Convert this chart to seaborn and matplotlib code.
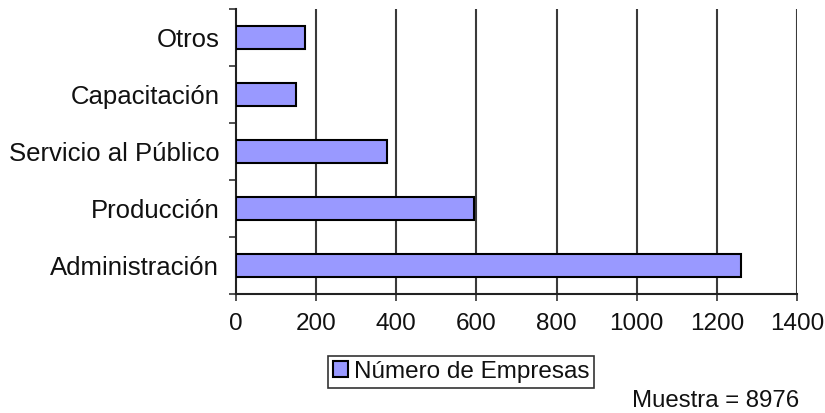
import matplotlib
matplotlib.use("Agg")
import matplotlib.pyplot as plt
import seaborn as sns
import pandas as pd
import numpy as np

# data
areas = ["Otros", "Capacitación", "Servicio al Público", "Producción", "Administración"]
empresas = [173, 151, 378, 594, 1260]
x_ticks = [0, 200, 400, 600, 800, 1000, 1200, 1400]
serie = "Número de Empresas"
nota = "Muestra = 8976"

df = pd.DataFrame({"area": areas, "empresas": empresas})

sns.set_style("white")
plt.rcParams["font.family"] = ["Liberation Sans", "DejaVu Sans"]

fig = plt.figure(figsize=(8.25, 4.13), dpi=100)
ax = fig.add_axes([0.286, 0.289, 0.68, 0.69])

sns.barplot(data=df, y="area", x="empresas", orient="h", color="#9999FF",
            saturation=1, edgecolor="black", linewidth=1.5, width=0.4,
            label=serie, ax=ax, zorder=3)

ax.set_xlim(0, 1400)
ax.set_ylim(len(areas) - 0.5, -0.5)
ax.set_xticks(x_ticks)
ax.set_xticklabels([str(t) for t in x_ticks], fontsize=17.5, color="#111111")
ax.set_xlabel("")
ax.set_ylabel("")

# category labels at centers, tick marks at boundaries
ax.set_yticks(np.arange(len(areas)))
ax.set_yticklabels(areas, fontsize=18.5, color="#111111")
ax.tick_params(axis="y", length=0, pad=12)
ax.set_yticks(np.arange(len(areas) + 1) - 0.5, minor=True)
ax.tick_params(axis="y", which="minor", length=5, width=1.2, color="#333333", direction="out", left=True)
ax.tick_params(axis="x", length=5, width=1.2, color="#333333", direction="out", bottom=True, pad=9)

for t in x_ticks[1:]:
    ax.axvline(t, color="#3a3a3a", linewidth=1.5, zorder=1)

for s in ["top", "right"]:
    ax.spines[s].set_visible(False)
for s in ["left", "bottom"]:
    ax.spines[s].set_color("#222222")
    ax.spines[s].set_linewidth(1.5)

leg = ax.legend(loc="center", bbox_to_anchor=(0.559, 0.10), bbox_transform=fig.transFigure,
                fontsize=17.5, frameon=True, fancybox=False, handlelength=0.6, handleheight=0.6,
                handletextpad=0.25, borderpad=0.2, borderaxespad=0)
leg.get_frame().set_edgecolor("black")
leg.get_frame().set_linewidth(1.2)
for txt in leg.get_texts():
    txt.set_color("#111111")

fig.text(0.766, 0.029, nota, fontsize=17.3, ha="left", va="center", color="#111111")

fig.savefig("out.png", dpi=100)
